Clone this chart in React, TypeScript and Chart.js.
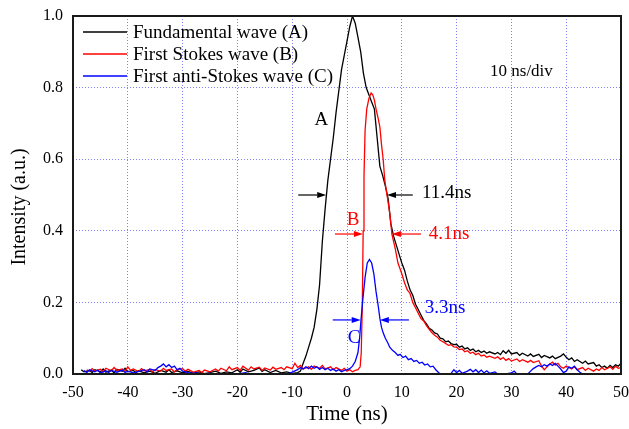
import React, { useEffect, useRef } from "react";
import { Chart, registerables } from "chart.js";

Chart.register(...registerables);

// ---- Data (time in ns, normalised intensity) ----
const fundamentalWave: [number, number][] = [
  [-48.5, 0.012], [-48, 0.006], [-47, 0.01], [-46.5, 0.004], [-46, 0.012], [-45, 0.006], [-44.5, 0.014], [-44, 0.005],
  [-43, 0.011], [-42.5, 0.003], [-42, 0.013], [-41, 0.008], [-40.5, 0.016], [-40, 0.006], [-39, 0.01], [-38.5, 0.004],
  [-38, 0.009], [-37, 0.003], [-36, 0.008], [-35, 0.002], [-34, 0.01], [-33, 0.005], [-32.5, 0.012], [-32, 0.004],
  [-31, 0.009], [-30, 0.003], [-29, 0.007], [-28, 0.002], [-27, 0.006], [-26, 0.001], [-25, 0.004], [-24, 0.008],
  [-23, 0.002], [-22, 0.006], [-21, 0.003], [-20, 0.012], [-19.5, 0.005], [-19, 0.014], [-18, 0.006], [-17, 0.01],
  [-16, 0.017], [-15.5, 0.007], [-15, 0.012], [-14, 0.004], [-13, 0.01], [-12, 0.003], [-11, 0.006], [-10, 0.002],
  [-9, 0.004], [-8.5, 0.008], [-8, 0.03], [-7.5, 0.05], [-7, 0.075], [-6.5, 0.1], [-6, 0.13], [-5.5, 0.18],
  [-5, 0.25], [-4.5, 0.37], [-4, 0.46], [-3.5, 0.54], [-3, 0.6], [-2.5, 0.66], [-2, 0.73], [-1.5, 0.79],
  [-1, 0.85], [-0.5, 0.89], [0, 0.93], [0.5, 0.97], [1, 1.0], [1.5, 0.98], [2, 0.94], [2.5, 0.9],
  [3, 0.84], [3.5, 0.8], [4, 0.78], [4.5, 0.76], [5, 0.74], [5.5, 0.66], [6, 0.58], [6.5, 0.555],
  [7, 0.525], [7.5, 0.49], [8, 0.42], [8.5, 0.385], [9, 0.36], [9.5, 0.335], [10, 0.31], [10.5, 0.29],
  [11, 0.26], [11.5, 0.235], [12, 0.22], [12.5, 0.195], [13, 0.18], [13.5, 0.165], [14, 0.15], [14.5, 0.14],
  [15, 0.128], [15.5, 0.123], [16, 0.115], [16.5, 0.112], [17, 0.1], [17.5, 0.098], [18, 0.09], [18.5, 0.092],
  [19, 0.085], [19.5, 0.082], [20, 0.083], [20.5, 0.075], [21, 0.078], [21.5, 0.07], [22, 0.073], [22.5, 0.066],
  [23, 0.07], [23.5, 0.062], [24, 0.066], [24.5, 0.06], [25, 0.064], [25.5, 0.058], [26, 0.062], [27, 0.056],
  [27.5, 0.06], [28, 0.054], [28.5, 0.065], [29, 0.058], [29.5, 0.066], [30, 0.056], [31, 0.06], [31.5, 0.052],
  [32, 0.058], [33, 0.05], [33.5, 0.056], [34, 0.049], [35, 0.055], [35.5, 0.046], [36, 0.052], [37, 0.045],
  [37.5, 0.05], [38, 0.043], [39, 0.05], [39.5, 0.056], [40, 0.047], [40.5, 0.04], [41, 0.045], [41.5, 0.035],
  [42, 0.04], [43, 0.03], [43.5, 0.036], [44, 0.028], [45, 0.032], [45.5, 0.022], [46, 0.026], [46.5, 0.018],
  [47, 0.022], [47.5, 0.016], [48, 0.024], [48.5, 0.018], [49, 0.026], [49.5, 0.022], [50, 0.03],
];

const firstStokesWave: [number, number][] = [
  [-47.5, 0.012], [-47, 0.007], [-46.5, 0.015], [-46, 0.008], [-45, 0.013], [-44.5, 0.006], [-44, 0.016], [-43, 0.009],
  [-42.5, 0.018], [-42, 0.01], [-41, 0.014], [-40.5, 0.007], [-40, 0.02], [-39.5, 0.01], [-39, 0.014], [-38, 0.007],
  [-37.5, 0.015], [-37, 0.009], [-36, 0.013], [-35.5, 0.006], [-35, 0.012], [-34, 0.008], [-33.5, 0.016], [-33, 0.01],
  [-32, 0.014], [-31.5, 0.006], [-31, 0.012], [-30, 0.015], [-29.5, 0.008], [-29, 0.013], [-28, 0.005], [-27, 0.01],
  [-26.5, 0.004], [-26, 0.011], [-25, 0.006], [-24, 0.014], [-23.5, 0.008], [-23, 0.016], [-22, 0.009], [-21.5, 0.02],
  [-21, 0.012], [-20, 0.018], [-19.5, 0.01], [-19, 0.022], [-18, 0.011], [-17.5, 0.02], [-17, 0.014], [-16, 0.019],
  [-15.5, 0.01], [-15, 0.017], [-14, 0.011], [-13.5, 0.019], [-13, 0.013], [-12, 0.018], [-11.5, 0.012], [-11, 0.02],
  [-10, 0.015], [-9.5, 0.03], [-9, 0.018], [-8.5, 0.024], [-8, 0.014], [-7, 0.02], [-6.5, 0.013], [-6, 0.022],
  [-5, 0.016], [-4.5, 0.024], [-4, 0.014], [-3, 0.02], [-2.5, 0.012], [-2, 0.018], [-1, 0.01], [-0.5, 0.016],
  [0, 0.008], [0.5, 0.012], [1, 0.006], [1.5, 0.01], [2, 0.012], [2.4, 0.02], [2.6, 0.06], [2.8, 0.2],
  [2.95, 0.4], [3.1, 0.55], [3.3, 0.68], [3.6, 0.74], [4, 0.77], [4.4, 0.785], [4.7, 0.78], [5, 0.765],
  [5.3, 0.74], [5.6, 0.72], [6, 0.69], [6.3, 0.64], [6.6, 0.6], [6.9, 0.54], [7.3, 0.5], [7.8, 0.45],
  [8.2, 0.39], [8.8, 0.35], [9.3, 0.31], [10, 0.28], [10.5, 0.255], [11, 0.235], [11.5, 0.225], [12, 0.2],
  [12.5, 0.185], [13, 0.17], [13.5, 0.155], [14, 0.148], [14.5, 0.135], [15, 0.125], [15.5, 0.115], [16, 0.108],
  [16.5, 0.103], [17, 0.094], [17.5, 0.09], [18, 0.085], [18.5, 0.08], [19, 0.082], [19.5, 0.076], [20, 0.075],
  [20.5, 0.068], [21, 0.07], [21.5, 0.062], [22, 0.065], [22.5, 0.058], [23, 0.061], [23.5, 0.054], [24, 0.058],
  [24.5, 0.05], [25, 0.053], [25.5, 0.047], [26, 0.05], [27, 0.044], [27.5, 0.048], [28, 0.041], [28.5, 0.046],
  [29, 0.038], [29.5, 0.043], [30, 0.036], [31, 0.042], [31.5, 0.035], [32, 0.04], [33, 0.033], [33.5, 0.038],
  [34, 0.032], [35, 0.037], [35.5, 0.022], [36, 0.012], [36.5, 0.02], [37, 0.028], [37.5, 0.033], [38, 0.025],
  [38.5, 0.03], [39, 0.02], [39.5, 0.016], [40, 0.022], [41, 0.014], [41.5, 0.02], [42, 0.012], [43, 0.018],
  [43.5, 0.01], [44, 0.016], [45, 0.008], [45.5, 0.014], [46, 0.01], [46.5, 0.018], [47, 0.012], [48, 0.02],
  [48.5, 0.013], [49, 0.022], [49.5, 0.016], [50, 0.018],
];

const firstAntiStokesWave: [number, number][] = [
  [-48, 0.01], [-47.5, 0.004], [-47, 0.012], [-46, 0.006], [-45.5, 0.011], [-45, 0.003], [-44, 0.009], [-43.5, 0.004],
  [-43, 0.01], [-42, 0.005], [-41, 0.011], [-40.5, 0.004], [-40, 0.008], [-39, 0.003], [-38, 0.007], [-37, 0.012],
  [-36.5, 0.006], [-36, 0.014], [-35, 0.01], [-34.5, 0.018], [-34, 0.022], [-33.5, 0.028], [-33, 0.02], [-32.5, 0.026],
  [-32, 0.018], [-31.5, 0.022], [-31, 0.012], [-30.5, 0.016], [-30, 0.008], [-29, 0.004], [-28, 0.002], [-27.5, 0.004],
  [-27, 0.0], [-25, 0.002], [-24, 0.0], [-22, 0.001], [-20, 0.0], [-18.5, 0.004], [-18, 0.001], [-16, 0.0],
  [-13, 0.001], [-11, 0.0], [-10, 0.005], [-9, 0.012], [-8.5, 0.018], [-8, 0.014], [-7.5, 0.02], [-7, 0.015],
  [-6.5, 0.022], [-6, 0.016], [-5.5, 0.02], [-5, 0.013], [-4.5, 0.018], [-4, 0.012], [-3.5, 0.016], [-3, 0.01],
  [-2.5, 0.014], [-2, 0.008], [-1.5, 0.012], [-1, 0.006], [-0.5, 0.01], [0, 0.012], [0.5, 0.015], [1, 0.022],
  [1.5, 0.035], [2, 0.06], [2.3, 0.1], [2.55, 0.15], [2.9, 0.21], [3.3, 0.27], [3.7, 0.31], [4.1, 0.32],
  [4.5, 0.31], [4.9, 0.28], [5.3, 0.23], [5.7, 0.19], [6, 0.155], [6.3, 0.13], [6.6, 0.115], [7, 0.1],
  [7.5, 0.085], [7.8, 0.075], [8.3, 0.066], [8.8, 0.06], [9.3, 0.052], [9.7, 0.055], [10.2, 0.046], [10.7, 0.05],
  [11.2, 0.04], [11.7, 0.043], [12.2, 0.035], [12.7, 0.038], [13.2, 0.03], [13.7, 0.033], [14.2, 0.025], [14.7, 0.028],
  [15.2, 0.02], [15.7, 0.022], [16.2, 0.012], [16.7, 0.004], [17, 0.0], [18, 0.0], [19, 0.002], [19.5, 0.012],
  [20, 0.004], [20.5, 0.01], [21, 0.002], [22, 0.008], [22.5, 0.013], [23, 0.006], [23.5, 0.012], [24, 0.004],
  [24.5, 0.011], [25, 0.003], [25.5, 0.009], [26, 0.002], [27, 0.006], [27.5, 0.0], [29, 0.0], [30, 0.003],
  [30.5, 0.008], [31, 0.0], [33, 0.0], [33.5, 0.008], [34, 0.015], [34.5, 0.02], [35, 0.024], [35.5, 0.02],
  [36, 0.026], [36.5, 0.022], [37, 0.028], [37.5, 0.024], [38, 0.03], [38.5, 0.022], [39, 0.014], [39.5, 0.004],
  [40, 0.008], [40.5, 0.02], [41, 0.016], [41.5, 0.022], [42, 0.012], [42.5, 0.005], [43, 0.0],
];

const seriesLabels = ["Fundamental wave (A)", "First Stokes wave (B)", "First anti-Stokes wave (C)"];
const seriesColors = ["#000000", "#ff0000", "#0000ff"];
const xTicks = { min: -50, max: 50, step: 10 };
const yTicks = { min: 0, max: 1, step: 0.2 };
const xTitle = "Time (ns)";
const yTitle = "Intensity (a.u.)";

// FWHM markers (arrow tail / tip times) at a given level
const widthMarkers = [
  { color: "#000000", level: 0.5, left: [-8.9, -3.8], right: [12.0, 7.3] },
  { color: "#ff0000", level: 0.391, left: [-2.2, 2.9], right: [13.5, 8.2] },
  { color: "#0000ff", level: 0.151, left: [-2.6, 2.5], right: [11.3, 6.0] },
];
const annotationTexts = [
  { text: "A", t: -4.7, v: 0.709, color: "#000000", align: "center" },
  { text: "10 ns/div", t: 26.1, v: 0.846, color: "#000000", align: "left", size: 17 },
  { text: "11.4ns", t: 13.7, v: 0.506, color: "#000000", align: "left" },
  { text: "B", t: 1.1, v: 0.43, color: "#ff0000", align: "center" },
  { text: "4.1ns", t: 14.9, v: 0.391, color: "#ff0000", align: "left" },
  { text: "C", t: 1.3, v: 0.1, color: "#0000ff", align: "center" },
  { text: "3.3ns", t: 14.2, v: 0.184, color: "#0000ff", align: "left" },
];

const FONT = '"Liberation Serif", "Times New Roman", serif';

function drawArrow(ctx: CanvasRenderingContext2D, x1: number, y: number, x2: number, color: string) {
  const dir = x2 > x1 ? 1 : -1;
  const head = 9;
  ctx.save();
  ctx.strokeStyle = color;
  ctx.fillStyle = color;
  ctx.lineWidth = 1.2;
  ctx.beginPath();
  ctx.moveTo(x1, y);
  ctx.lineTo(x2 - dir * head, y);
  ctx.stroke();
  ctx.beginPath();
  ctx.moveTo(x2, y);
  ctx.lineTo(x2 - dir * head, y - 3);
  ctx.lineTo(x2 - dir * head, y + 3);
  ctx.closePath();
  ctx.fill();
  ctx.restore();
}

const decorPlugin = {
  id: "decor",
  afterDatasetsDraw(chart: any) {
    const { ctx, chartArea, scales } = chart;
    const xs = scales.x;
    const ys = scales.y;
    // frame
    ctx.save();
    ctx.strokeStyle = "#1a1a1a";
    ctx.lineWidth = 2;
    ctx.strokeRect(chartArea.left, chartArea.top, chartArea.right - chartArea.left, chartArea.bottom - chartArea.top);
    ctx.restore();

    // legend
    ctx.save();
    chart.data.datasets.forEach((ds: any, i: number) => {
      const y = chartArea.top + 16 + i * 22;
      const x0 = chartArea.left + 10;
      ctx.strokeStyle = ds.borderColor;
      ctx.lineWidth = 1.4;
      ctx.beginPath();
      ctx.moveTo(x0, y);
      ctx.lineTo(x0 + 44, y);
      ctx.stroke();
      ctx.fillStyle = "#000";
      ctx.font = `19px ${FONT}`;
      ctx.textBaseline = "middle";
      ctx.textAlign = "left";
      ctx.fillText(ds.label, x0 + 50, y + 1);
    });
    ctx.restore();

    // width markers
    widthMarkers.forEach((m) => {
      const y = ys.getPixelForValue(m.level);
      drawArrow(ctx, xs.getPixelForValue(m.left[0]), y, xs.getPixelForValue(m.left[1]), m.color);
      drawArrow(ctx, xs.getPixelForValue(m.right[0]), y, xs.getPixelForValue(m.right[1]), m.color);
    });

    // texts
    ctx.save();
    annotationTexts.forEach((a: any) => {
      ctx.fillStyle = a.color;
      ctx.font = `${a.size || 19}px ${FONT}`;
      ctx.textAlign = a.align;
      ctx.textBaseline = "middle";
      ctx.fillText(a.text, xs.getPixelForValue(a.t), ys.getPixelForValue(a.v));
    });
    ctx.restore();

    // y axis title
    ctx.save();
    ctx.fillStyle = "#000";
    ctx.font = `20px ${FONT}`;
    ctx.textAlign = "center";
    ctx.textBaseline = "middle";
    ctx.translate(20, (chartArea.top + chartArea.bottom) / 2 + 12);
    ctx.rotate(-Math.PI / 2);
    ctx.fillText(yTitle, 0, 0);
    ctx.restore();
  },
};

export default function App() {
  const canvasRef = useRef<HTMLCanvasElement | null>(null);

  useEffect(() => {
    if (!canvasRef.current) return;
    const series = [fundamentalWave, firstStokesWave, firstAntiStokesWave];
    const chart = new Chart(canvasRef.current, {
      type: "line",
      data: {
        datasets: series.map((s, i) => ({
          label: seriesLabels[i],
          data: s.map(([t, v]) => ({ x: t, y: v })),
          borderColor: seriesColors[i],
          backgroundColor: seriesColors[i],
          borderWidth: 1.3,
          pointRadius: 0,
          tension: 0,
          fill: false,
          order: 3 - i,
        })),
      },
      options: {
        animation: false,
        responsive: false,
        maintainAspectRatio: false,
        layout: { padding: { top: 16, right: 8, left: 0, bottom: 2 } },
        plugins: {
          legend: { display: false },
          tooltip: { enabled: false },
        },
        scales: {
          x: {
            type: "linear",
            min: xTicks.min,
            max: xTicks.max,
            afterFit: (scale: any) => {
              scale.height = 53;
              scale.paddingLeft = 0;
              scale.paddingRight = 0;
            },
            ticks: {
              stepSize: xTicks.step,
              color: "#000",
              font: { family: FONT, size: 16 },
              padding: 9,
              maxRotation: 0,
            },
            grid: {
              color: "#8080ff",
              lineWidth: 1,
              drawTicks: false,
            },
            border: { display: false, dash: [1, 2] },
            title: {
              display: true,
              text: xTitle,
              color: "#000",
              font: { family: FONT, size: 21 },
              padding: { top: 0, bottom: 0 },
            },
          },
          y: {
            type: "linear",
            min: yTicks.min,
            max: yTicks.max,
            afterFit: (scale: any) => {
              scale.width = 73;
              scale.paddingTop = 0;
              scale.paddingBottom = 0;
            },
            ticks: {
              stepSize: yTicks.step,
              color: "#000",
              font: { family: FONT, size: 16 },
              padding: 10,
              callback: (v: any) => Number(v).toFixed(1),
            },
            grid: {
              color: "#8080ff",
              lineWidth: 1,
              drawTicks: false,
            },
            border: { display: false, dash: [1, 2] },
          },
        },
      },
      plugins: [decorPlugin],
    } as any);
    return () => chart.destroy();
  }, []);

  return (
    <div style={{ position: "fixed", left: 0, top: 0, width: 629, height: 429, background: "#fff" }}>
      <canvas ref={canvasRef} width={629} height={429} style={{ width: 629, height: 429 }} />
    </div>
  );
}
